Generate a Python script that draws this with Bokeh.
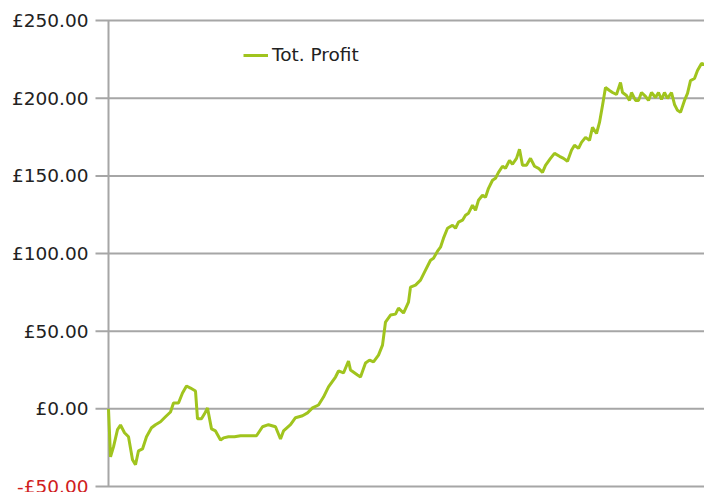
from bokeh.plotting import figure
from bokeh.models import Range1d, ColumnDataSource, Legend, LegendItem, GlobalInlineStyleSheet
from bokeh.embed import file_html
from bokeh.resources import INLINE

# trade position (x) and cumulative profit in £ (y)
trade = [0, 2, 5, 9, 12, 16, 20, 24, 27, 30, 34, 38, 43, 47, 52, 57, 62, 65, 70, 74,
         78, 82, 87, 89, 93, 96, 99, 103, 107, 112, 115, 120, 126, 132, 138, 143, 148, 154,
         160, 167, 172, 175, 182, 187, 194, 199, 204, 210, 215, 220, 227, 230, 235, 240,
         242, 249, 252, 257, 261, 265, 270, 274, 277, 282, 287, 290, 295, 300, 302, 307,
         312, 317, 322, 325, 329, 332, 335, 339, 344, 347, 350, 354, 357, 360, 364, 367,
         370, 374, 377, 380, 384, 387, 390, 394, 397, 401, 404, 408, 411, 414, 418, 422,
         426, 430, 434, 437, 442, 446, 451, 455, 459, 463, 466, 470, 473, 477, 481, 484,
         488, 491, 494, 497, 501, 504, 508, 512, 514, 518, 521, 523, 527, 530, 533, 537,
         540, 543, 547, 550, 553, 556, 559, 563, 566, 569, 572, 576, 579, 582, 586, 589,
         593, 596]
profit = [0, -30.9, -24.5, -13.4, -10.4, -15.4, -18, -32.7, -36, -27, -25.8, -18, -12.2,
          -10.2, -8.3, -5.1, -2, 3.8, 3.8, 10.2, 14.7, 13.4, 11.5, -6.4, -6.4, -3.2, 0.6,
          -12.9, -14.2, -20, -18.7, -18, -18, -17.3, -17.3, -17.3, -17.3, -11.5, -10.2,
          -11.5, -19.4, -14.2, -10.2, -5.7, -4.4, -2.6, 0.6, 2.5, 7.6, 14.1, 20.5, 24.4,
          23.1, 30.8, 25, 21.8, 20.5, 29.5, 31.4, 30.2, 34.6, 41, 55.9, 60.4, 61, 64.9,
          61.7, 68.7, 78.4, 79.7, 82.9, 89.3, 95.7, 97, 101.5, 104.1, 109.9, 116.3, 118.2,
          116.3, 120.2, 121.5, 124.7, 126, 131.1, 127.9, 134.3, 137.5, 136.2, 142, 147.2,
          148.5, 152.3, 156.2, 154.9, 160, 157.5, 161.3, 167.1, 156.8, 156.8, 161.3, 156.2,
          154.9, 152.3, 156.8, 161.3, 164.5, 162.6, 161.3, 159.4, 166.5, 169.7, 167.7,
          171.6, 174.8, 172.9, 181.2, 177.3, 184.4, 195.4, 206.9, 205, 203.7, 202.4, 210.1,
          203.7, 201.8, 198.6, 203.7, 198.6, 198.6, 203.7, 201.2, 198.6, 203.7, 200.5,
          203.7, 199.2, 203.7, 199.9, 203.7, 196, 192.2, 190.9, 198.6, 203.1, 211.4, 212.7,
          217.9, 222.4, 221.7]
y_ticks = [-50, 0, 50, 100, 150, 200, 250]
tick_labels = ["-£50.00", "£0.00", "£50.00", "£100.00", "£150.00", "£200.00", "£250.00"]
series_name = "Tot. Profit"

LINE = "#a0c41e"
GRID = "#a6a6a6"
TEXT = "#222222"
NEG = "#d02020"
FONT = "DejaVu Sans"
FSIZE = "18.5px"

X_END = max(trade)
# frame covers the whole canvas; the axis area lies at negative x (1 unit = 1 px)
p = figure(width=704, height=492, output_backend="svg", toolbar_location=None,
           x_range=Range1d(-108, X_END), y_range=Range1d(-53.86, 262.94),
           min_border_left=0, min_border_right=0, min_border_top=0,
           min_border_bottom=0)
p.stylesheets = [GlobalInlineStyleSheet(css="html, body { overflow: hidden; margin: 0; }")]
p.outline_line_color = None
p.axis.visible = False
p.grid.visible = False

# gridlines, including the outward tick stubs
grid_src = ColumnDataSource(dict(
    x0=[-13] * len(y_ticks), x1=[X_END] * len(y_ticks), y=y_ticks))
p.segment(x0="x0", y0="y", x1="x1", y1="y", source=grid_src,
          line_color=GRID, line_width=2)

# vertical axis line
p.segment(x0=[0], y0=[min(y_ticks)], x1=[0], y1=[max(y_ticks)],
          line_color=GRID, line_width=2)

# tick labels (negative values in red)
lab_src = ColumnDataSource(dict(
    x=[-20] * len(y_ticks), y=y_ticks, text=tick_labels,
    color=[NEG if v < 0 else TEXT for v in y_ticks]))
p.text(x="x", y="y", text="text", source=lab_src, text_color="color",
       text_align="right", text_baseline="middle",
       text_font={"value": FONT}, text_font_size={"value": FSIZE})

r = p.line(trade, profit, line_color=LINE, line_width=3)

legend = Legend(items=[LegendItem(label=series_name, renderers=[r])],
                location=(243, 427), padding=0, margin=0, spacing=0,
                glyph_width=25, glyph_height=20, label_height=20,
                label_standoff=4, label_text_font=FONT,
                label_text_font_size=FSIZE, label_text_color=TEXT,
                border_line_color=None, background_fill_alpha=0)
p.add_layout(legend)

open("out.html", "w").write(file_html(p, INLINE))
